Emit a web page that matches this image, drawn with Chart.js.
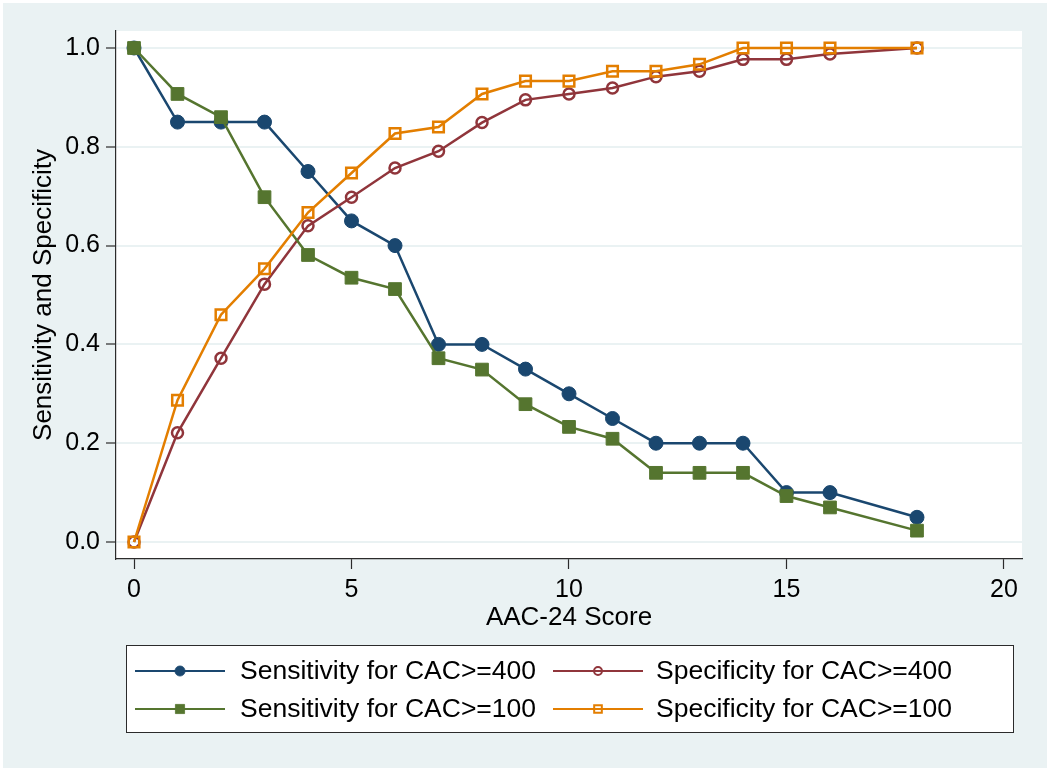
<!DOCTYPE html>
<html lang="en">
<head>
  <meta charset="UTF-8">
  <title>Sensitivity and Specificity by AAC-24 Score</title>
  <style>
    html, body { margin: 0; padding: 0; background: #ffffff; }
    #wrap { width: 1050px; height: 771px; }
  </style>
</head>
<body>
  <div id="wrap">
    <canvas id="chart" width="1050" height="771"></canvas>
  </div>

  <script src="https://cdn.jsdelivr.net/npm/chart.js@4.4.0/dist/chart.umd.min.js"></script>
  <script>
    // AAC-24 score (no observation at 17)
    const scores = [0, 1, 2, 3, 4, 5, 6, 7, 8, 9, 10, 11, 12, 13, 14, 15, 16, 18];
    const sens400 = [1.00, 0.85, 0.85, 0.85, 0.75, 0.65, 0.60, 0.40, 0.40, 0.35, 0.30, 0.25, 0.20, 0.20, 0.20, 0.10, 0.10, 0.05];
    const spec400 = [0.000, 0.221, 0.372, 0.522, 0.640, 0.698, 0.757, 0.791, 0.849, 0.895, 0.907, 0.919, 0.942, 0.953, 0.977, 0.977, 0.988, 1.000];
    const sens100 = [1.000, 0.907, 0.860, 0.698, 0.581, 0.535, 0.512, 0.372, 0.349, 0.279, 0.233, 0.209, 0.140, 0.140, 0.140, 0.093, 0.070, 0.023];
    const spec100 = [0.000, 0.287, 0.460, 0.553, 0.667, 0.747, 0.827, 0.840, 0.907, 0.933, 0.933, 0.953, 0.953, 0.967, 1.000, 1.000, 1.000, 1.000];
    const yTicks = [0, 0.2, 0.4, 0.6, 0.8, 1.0];
    const xTicks = [0, 5, 10, 15, 20];

    const FONT = '"Liberation Sans", Arial, Helvetica, sans-serif';
    const BG = '#eaf2f3';
    const AXIS = '#2b2b2b';

    const pts = ys => scores.map((x, i) => ({ x: x, y: ys[i] }));

    const ctx = document.querySelector('#chart').getContext('2d');

    const backdrop = {
      id: 'backdrop',
      beforeDraw(chart) {
        const c = chart.ctx, a = chart.chartArea;
        c.save();
        c.fillStyle = '#ffffff';
        c.fillRect(0, 0, chart.width, chart.height);
        c.fillStyle = BG;
        c.fillRect(3, 3, chart.width - 6, chart.height - 6);
        c.fillStyle = '#ffffff';
        c.fillRect(a.left, a.top, a.right - a.left, a.bottom - a.top);
        c.restore();
      }
    };

    // Stata-style boxed legend, two columns
    const boxLegend = {
      id: 'boxLegend',
      afterDraw(chart) {
        const c = chart.ctx;
        const box = { l: 126, t: 645, r: 1013, b: 732 };
        const rows = [671, 709];
        const cols = [{ l0: 135, l1: 225, tx: 240 }, { l0: 553, l1: 643, tx: 656 }];
        c.save();
        c.fillStyle = '#ffffff';
        c.fillRect(box.l, box.t, box.r - box.l, box.b - box.t);
        c.strokeStyle = AXIS;
        c.lineWidth = 1;
        c.strokeRect(box.l + 0.5, box.t + 0.5, box.r - box.l, box.b - box.t);
        chart.data.datasets.forEach((ds, i) => {
          const col = cols[i % 2], y = rows[Math.floor(i / 2)];
          const xm = (col.l0 + col.l1) / 2;
          const r = ds.pointRadius * 0.72;
          c.strokeStyle = ds.borderColor;
          c.lineWidth = 2.2;
          c.beginPath();
          c.moveTo(col.l0, y);
          c.lineTo(col.l1, y);
          c.stroke();
          c.fillStyle = ds.pointBackgroundColor;
          c.strokeStyle = ds.pointBorderColor;
          c.lineWidth = ds.pointBorderWidth * 0.8;
          c.beginPath();
          if (ds.pointStyle === 'circle') {
            c.arc(xm, y, r, 0, Math.PI * 2);
          } else {
            const s = r * Math.SQRT1_2;
            c.rect(xm - s, y - s, 2 * s, 2 * s);
          }
          c.fill();
          c.stroke();
          c.fillStyle = '#000000';
          c.font = '26.5px ' + FONT;
          c.textBaseline = 'middle';
          c.textAlign = 'left';
          c.fillText(ds.label, col.tx, y + 1);
        });
        c.restore();
      }
    };

    const config = {
      type: 'line',
      data: {
        datasets: [{
          label: 'Sensitivity for CAC>=400',
          data: pts(sens400),
          borderColor: '#1a476f',
          borderWidth: 2.5,
          pointStyle: 'circle',
          pointRadius: 7,
          pointBorderWidth: 1,
          pointBackgroundColor: '#1a476f',
          pointBorderColor: '#1a476f',
          order: 4
        }, {
          label: 'Specificity for CAC>=400',
          data: pts(spec400),
          borderColor: '#90353b',
          borderWidth: 2.5,
          pointStyle: 'circle',
          pointRadius: 5.5,
          pointBorderWidth: 2.5,
          pointBackgroundColor: 'rgba(0,0,0,0)',
          pointBorderColor: '#90353b',
          order: 3
        }, {
          label: 'Sensitivity for CAC>=100',
          data: pts(sens100),
          borderColor: '#55752f',
          borderWidth: 2.5,
          pointStyle: 'rect',
          pointRadius: 9,
          pointBorderWidth: 1,
          pointBackgroundColor: '#55752f',
          pointBorderColor: '#55752f',
          order: 2
        }, {
          label: 'Specificity for CAC>=100',
          data: pts(spec100),
          borderColor: '#e37e00',
          borderWidth: 2.5,
          pointStyle: 'rect',
          pointRadius: 7.5,
          pointBorderWidth: 2.5,
          pointBackgroundColor: 'rgba(0,0,0,0)',
          pointBorderColor: '#e37e00',
          order: 1
        }]
      },
      options: {
        responsive: false,
        animation: false,
        layout: { padding: { left: 3, top: 31, right: 28, bottom: 132 } },
        plugins: {
          legend: { display: false },
          tooltip: { enabled: false }
        },
        scales: {
          x: {
            type: 'linear',
            min: -0.414,
            max: 20.414,
            afterBuildTicks(axis) { axis.ticks = xTicks.map(v => ({ value: v })); },
            afterFit(axis) { axis.height = 80; },
            ticks: {
              color: '#000000',
              font: { family: FONT, size: 25 },
              padding: 6,
              maxRotation: 0,
              callback: v => String(v)
            },
            grid: { drawOnChartArea: false, tickColor: AXIS, tickLength: 10, tickWidth: 1.2 },
            border: { color: AXIS, width: 1.2 },
            title: {
              display: true,
              text: 'AAC-24 Score',
              color: '#000000',
              font: { family: FONT, size: 26 },
              padding: { top: 0, bottom: 6 }
            }
          },
          y: {
            min: -0.0344,
            max: 1.0344,
            afterBuildTicks(axis) { axis.ticks = yTicks.map(v => ({ value: v })); },
            afterFit(axis) { axis.width = 113; },
            ticks: {
              color: '#000000',
              font: { family: FONT, size: 25 },
              padding: 6,
              callback: v => Number(v).toFixed(1)
            },
            grid: { color: BG, lineWidth: 2, tickColor: AXIS, tickLength: 10, tickWidth: 1.2 },
            border: { color: AXIS, width: 1.2 },
            title: {
              display: true,
              text: 'Sensitivity and Specificity',
              color: '#000000',
              font: { family: FONT, size: 26 },
              padding: { top: 25, bottom: 0 }
            }
          }
        }
      },
      plugins: [backdrop, boxLegend]
    };

    const chart = new Chart(ctx, config);
  </script>
</body>
</html>
